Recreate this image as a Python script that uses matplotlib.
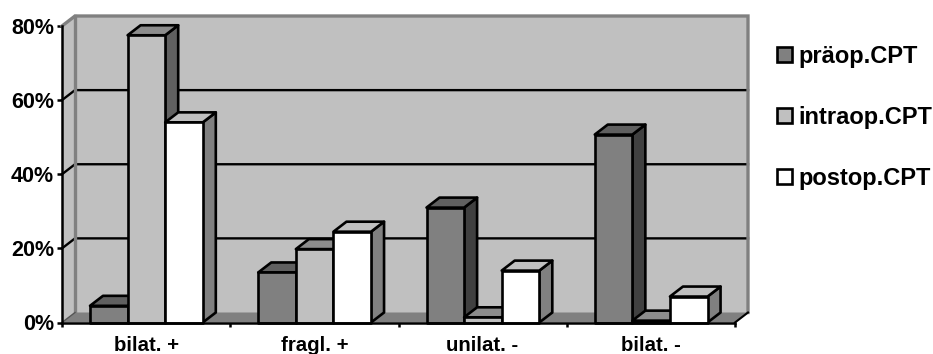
import matplotlib
matplotlib.use('Agg')
import matplotlib.pyplot as plt
from matplotlib.patches import Polygon, Patch

plt.rcParams['font.family'] = ['Liberation Sans', 'DejaVu Sans']
plt.rcParams['font.weight'] = 'bold'

# Werte in Prozent
categories = ['bilat. +', 'fragl. +', 'unilat. -', 'bilat. -']
praeop = [4.5, 13.5, 31, 50.7]
intraop = [77.5, 19.8, 1.4, 0.5]
postop = [54, 24.5, 14, 7]
series_names = ['präop.CPT', 'intraop.CPT', 'postop.CPT']
y_ticks = [0, 20, 40, 60, 80]

W, H = 933, 354
LEFT, RIGHT, BOTTOM, TOP = 62, 735, 322.5, 26

# Farben: Vorderseite, Deckel, Seite
colors = [('#808080', '#606060', '#404040'),
          ('#c0c0c0', '#8c8c8c', '#606060'),
          ('#ffffff', '#c0c0c0', '#808080')]

fig = plt.figure(figsize=(W / 100, H / 100), dpi=100)
ax = fig.add_axes([LEFT / W, 1 - BOTTOM / H, (RIGHT - LEFT) / W, (BOTTOM - TOP) / H])
ax.set_xlim(0, 4)
ax.set_ylim(0, 80)
ax.patch.set_visible(False)

px_x = 4 / (RIGHT - LEFT)
px_y = 80 / (BOTTOM - TOP)
dx = 13 * px_x   # Tiefe des 3D-Effekts
dy = 10 * px_y
lw = 1.9
gray = '#808080'


def poly(points, face, edge='none', width=0.0, z=1):
    ax.add_patch(Polygon(points, closed=True, facecolor=face, edgecolor=edge,
                         linewidth=width, clip_on=False, zorder=z, joinstyle='round'))


# Rückwand, Seitenwand, Boden
poly([(dx, dy), (4 + dx, dy), (4 + dx, 80 + dy), (dx, 80 + dy)], '#c0c0c0', z=1)
poly([(0, 0), (dx, dy), (dx, 80 + dy), (0, 80)], '#c0c0c0', z=1)
poly([(0, 0), (4, 0), (4 + dx, dy), (dx, dy)], gray, z=1)

# Gitternetz
for v in y_ticks[1:-1]:
    ax.plot([0, dx, 4 + dx], [v, v + dy, v + dy], color='black', lw=1.7,
            clip_on=False, zorder=2)

# Rahmen der Wand
ax.plot([0, dx, 4 + dx, 4 + dx], [80, 80 + dy, 80 + dy, dy], color=gray, lw=2.4,
        clip_on=False, zorder=2, solid_joinstyle='miter')
ax.plot([dx, dx], [dy, 80 + dy], color=gray, lw=2.4, clip_on=False, zorder=2)
ax.plot([4, 4 + dx], [0, dy], color='black', lw=1.5, clip_on=False, zorder=2)
ax.plot([0, dx], [0, dy], color='#555555', lw=1.0, clip_on=False, zorder=2)

# Säulen
bar_w = 37.6 * px_x
start = 28 * px_x
for i in range(len(categories)):
    for j, values in enumerate([praeop, intraop, postop]):
        v = values[i]
        x0 = i + start + j * bar_w
        x1 = x0 + bar_w
        front, top, side = colors[j]
        poly([(x1, 0), (x1 + dx, dy), (x1 + dx, v + dy), (x1, v)], side, 'black', lw, 3)
        poly([(x0, v), (x1, v), (x1 + dx, v + dy), (x0 + dx, v + dy)], top, 'black', lw, 3)
        poly([(x0, 0), (x1, 0), (x1, v), (x0, v)], front, 'black', lw, 3)

# Achsen
for s in ['top', 'right']:
    ax.spines[s].set_visible(False)
for s in ['left', 'bottom']:
    ax.spines[s].set_linewidth(1.8)
    ax.spines[s].set_zorder(5)
ax.set_yticks(y_ticks)
ax.set_yticklabels([f'{v}%' for v in y_ticks], fontsize=15.5, fontweight='bold')
ax.tick_params(axis='y', length=3.6, width=1.8, pad=2)
ax.set_xticks(range(5))
ax.set_xticklabels([])
ax.tick_params(axis='x', which='major', length=3, width=1.8)
ax.set_xticks([i + 0.5 for i in range(4)], minor=True)
ax.set_xticklabels(categories, minor=True, fontsize=14.7, fontweight='bold')
ax.tick_params(axis='x', which='minor', length=0, pad=10)

# Legende
handles = [Patch(facecolor=colors[k][0], edgecolor='black', linewidth=1.9, label=series_names[k])
           for k in range(3)]
fig.legend(handles=handles, loc='upper left', bbox_to_anchor=(777 / W, 1 - 45 / H),
           frameon=False, fontsize=17, handlelength=0.62, handleheight=0.62,
           handletextpad=0.3, labelspacing=1.6, borderpad=0, borderaxespad=0)

fig.savefig('out.png', dpi=100)
